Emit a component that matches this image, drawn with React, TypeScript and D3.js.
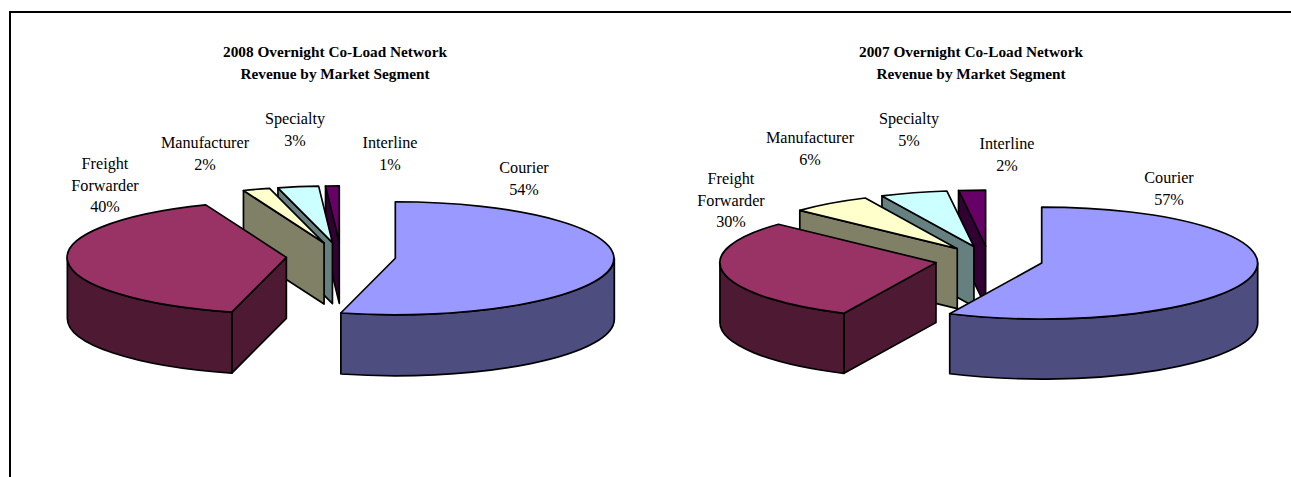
import { arc, pie, range } from 'd3'

// 2008 and 2007 share the same segments
const segments = ['Courier', 'Freight Forwarder', 'Manufacturer', 'Specialty', 'Interline']
const shares2008 = [54, 40, 2, 3, 1]
const shares2007 = [57, 30, 6, 5, 2]

const topColors = ['#9999ff', '#993366', '#ffffcc', '#ccffff', '#660066']
const wallColors = ['#4d4d80', '#4d1933', '#808066', '#668080', '#330033']

const labelFont = '"Liberation Serif", "Times New Roman", serif'
const explode = 0.25

type Pie3DProps = {
  title: string
  values: number[]
  cx: number
  cy: number
  rx: number
  ry: number
  depth: number
  labelAnchors: [number, number][]
  titleX: number
}

const sliceLayout = pie<number>().sort(null).startAngle(0).endAngle(2 * Math.PI)

function Pie3D({ title, values, cx, cy, rx, ry, depth, labelAnchors, titleX }: Pie3DProps) {
  const project = (angle: number) => [rx * Math.sin(angle), -ry * Math.cos(angle)]

  // the unit arc is squashed by the transform below, so the outline stays an ellipse
  const unitArc = arc<{ startAngle: number; endAngle: number }>()
    .innerRadius(0)
    .outerRadius(1)

  const slices = sliceLayout(values).map((slice, index) => {
    const mid = (slice.startAngle + slice.endAngle) / 2
    const [ox, oy] = project(mid)
    return { ...slice, index, mid, apexX: cx + explode * ox, apexY: cy + explode * oy }
  })

  // farthest from the viewer first
  const drawOrder = [...slices].sort(
    (a, b) => Math.abs(b.mid - Math.PI) - Math.abs(a.mid - Math.PI),
  )

  return (
    <g>
      <text
        x={titleX}
        y={57}
        textAnchor="middle"
        fontFamily={labelFont}
        fontSize={15.3}
        fontWeight="bold"
      >
        <tspan x={titleX}>{title}</tspan>
        <tspan x={titleX} dy={22}>
          Revenue by Market Segment
        </tspan>
      </text>

      {drawOrder.map((slice) => {
        const { startAngle, endAngle, apexX, apexY, index } = slice
        const [sx, sy] = project(startAngle)
        const [ex, ey] = project(endAngle)

        const wall = (x: number, y: number) =>
          `M${apexX},${apexY}L${apexX + x},${apexY + y}L${apexX + x},${apexY + y + depth}L${apexX},${apexY + depth}Z`

        const rimFrom = Math.max(startAngle, Math.PI / 2)
        const rimTo = Math.min(endAngle, (3 * Math.PI) / 2)
        const [rfx, rfy] = project(rimFrom)
        const [rtx, rty] = project(rimTo)
        const sweepOuter = `A${rx},${ry} 0 0 1 ${apexX + rtx},${apexY + rty}`
        const sweepBack = `A${rx},${ry} 0 0 0 ${apexX + rfx},${apexY + rfy + depth}`
        const rim =
          rimTo > rimFrom
            ? `M${apexX + rfx},${apexY + rfy}${sweepOuter}L${apexX + rtx},${apexY + rty + depth}${sweepBack}Z`
            : null

        return (
          <g key={segments[index]} stroke="#000" strokeWidth={1.7} strokeLinejoin="round">
            {-Math.cos(startAngle - Math.PI / 2) > 0 && (
              <path d={wall(sx, sy)} fill={wallColors[index]} />
            )}
            {-Math.cos(endAngle + Math.PI / 2) > 0 && (
              <path d={wall(ex, ey)} fill={wallColors[index]} />
            )}
            {rim && <path d={rim} fill={wallColors[index]} />}
            <path
              transform={`translate(${apexX},${apexY}) scale(${rx},${ry})`}
              d={unitArc({ startAngle, endAngle }) ?? ''}
              fill={topColors[index]}
              vectorEffect="non-scaling-stroke"
            />
          </g>
        )
      })}

      {range(segments.length).map((index) => {
        const [x, y] = labelAnchors[index]
        const lines = [
          ...(segments[index] === 'Freight Forwarder' ? ['Freight', 'Forwarder'] : [segments[index]]),
          `${values[index]}%`,
        ]
        return (
          <text
            key={segments[index]}
            x={x}
            y={y}
            textAnchor="middle"
            fontFamily={labelFont}
            fontSize={16.2}
          >
            {lines.map((line, lineIndex) => (
              <tspan key={line} x={x} dy={lineIndex === 0 ? 0 : 21.7}>
                {line}
              </tspan>
            ))}
          </text>
        )
      })}
    </g>
  )
}

export default function App() {
  return (
    <svg
      width={1291}
      height={477}
      viewBox="0 0 1291 477"
      style={{ position: 'absolute', left: 0, top: 0, background: '#fff' }}
    >
      <path d="M10,477V12H1291" fill="none" stroke="#000" strokeWidth={2} />
      <Pie3D
        title="2008 Overnight Co-Load Network"
        values={shares2008}
        cx={341}
        cy={256.5}
        rx={219}
        ry={56.5}
        depth={61}
        titleX={335}
        labelAnchors={[
          [524, 173],
          [105, 169],
          [205, 148],
          [295, 124],
          [390, 148],
        ]}
      />
      <Pie3D
        title="2007 Overnight Co-Load Network"
        values={shares2007}
        cx={989}
        cy={260}
        rx={216}
        ry={56}
        depth={60}
        titleX={971}
        labelAnchors={[
          [1169, 183],
          [731, 184],
          [810, 143],
          [909, 124],
          [1007, 149],
        ]}
      />
    </svg>
  )
}
